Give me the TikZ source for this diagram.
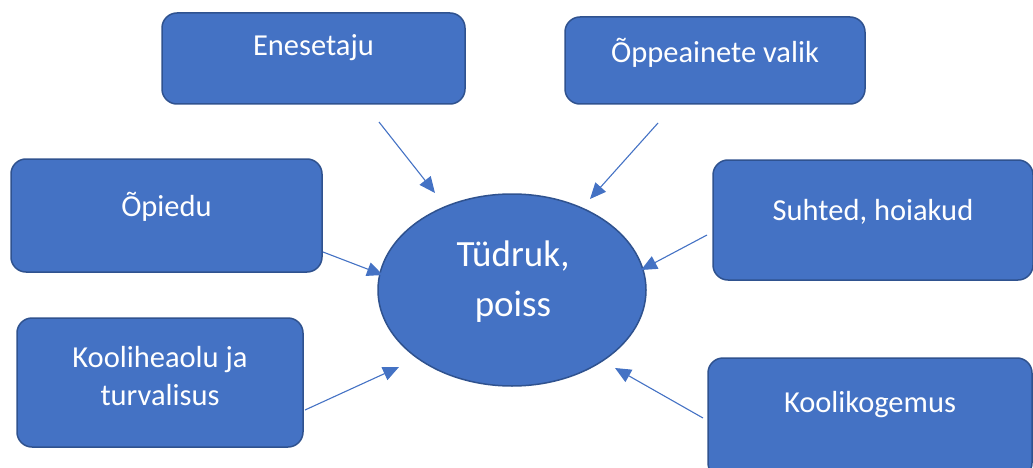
\documentclass[tikz,border=0pt]{standalone}
\usepackage{fontspec}
\setmainfont{Carlito}
\usetikzlibrary{arrows.meta,shapes.geometric,calc}
\definecolor{boxfill}{HTML}{4472C4}
\definecolor{boxline}{HTML}{2F528F}
\definecolor{arrowc}{HTML}{4472C4}
\begin{document}
\begin{tikzpicture}[x=1pt,y=-1pt,
  box/.style={draw=boxline, line width=1.5pt, fill=boxfill, rounded corners=15pt, inner sep=0pt},
  lbl/.style={text=white, font=\fontsize{30.5}{38}\selectfont, align=center},
  conn/.style={draw=arrowc, line width=1.1pt, -{Triangle[length=16pt,width=14pt]}}]
\useasboundingbox (0,0) rectangle (1033,468);
\clip (0,0) rectangle (1033,468);
% boxes
\node[box, minimum width=303pt, minimum height=91pt] (en) at (313.5,58.5) {};
\node[lbl] (enl) at (313.5,48) {Enesetaju};
\node[box, minimum width=300pt, minimum height=87pt] (op) at (715,60.5) {};
\node[lbl] (opl) at (715,53) {Õppeainete valik};
\node[box, minimum width=311pt, minimum height=113pt] (opi) at (166.5,215.5) {};
\node[lbl] (opil) at (166.5,207) {Õpiedu};
\node[box, minimum width=320pt, minimum height=120pt] (su) at (873,220) {};
\node[lbl] (sul) at (873,212) {Suhted, hoiakud};
\node[box, minimum width=286pt, minimum height=129pt] (ko) at (160,382.5) {};
\node[lbl] (kol) at (160,376) {Kooliheaolu ja\\turvalisus};
\node[box, minimum width=324pt, minimum height=120pt] (kg) at (870,418) {};
\node[lbl] (kgl) at (870,405) {Koolikogemus};
% center ellipse
\node[draw=boxline, line width=1.5pt, fill=boxfill, ellipse, minimum width=268pt, minimum height=192pt, inner sep=0pt] (c) at (512,290) {};
\node[text=white, font=\fontsize{37}{50}\selectfont, align=center] (cl) at (513,282) {Tüdruk,\\poiss};
% connector endpoints
\coordinate (s1) at (379,122); \coordinate (e1) at (435,193);
\coordinate (s2) at (658,123); \coordinate (e2) at (590,199);
\coordinate (s3) at (323,252); \coordinate (e3) at (383,275);
\coordinate (s4) at (707,235); \coordinate (e4) at (641,270);
\coordinate (s5) at (305,410); \coordinate (e5) at (399,367);
\coordinate (s6) at (703,418); \coordinate (e6) at (615,368);
\draw[conn] (s1) -- (e1);
\draw[conn] (s2) -- (e2);
\draw[conn] (s3) -- (e3);
\draw[conn] (s4) -- (e4);
\draw[conn] (s5) -- (e5);
\draw[conn] (s6) -- (e6);
\end{tikzpicture}
\end{document}
